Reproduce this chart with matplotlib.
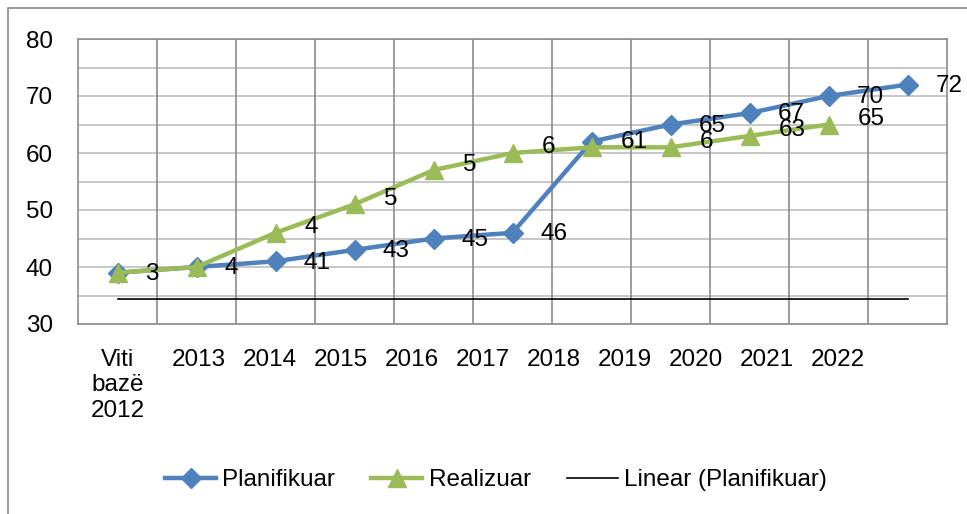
import matplotlib
matplotlib.use("Agg")
import matplotlib.pyplot as plt
import numpy as np
from matplotlib.patches import Rectangle

plt.rcParams['font.family'] = ['Liberation Sans', 'DejaVu Sans']

categories = ["Viti\nbazë\n2012", "2013", "2014", "2015", "2016", "2017",
              "2018", "2019", "2020", "2021", "2022"]
planifikuar = [39, 40, 41, 43, 45, 46, 62, 65, 67, 70, 72]
realizuar = [39, 40, 46, 51, 57, 60, 61, 61, 63, 65]
# data labels as they show up in the original (partly cut off)
plan_labels = ["3", "4", "41", "43", "45", "46", "", "65", "67", "70", "72"]
real_labels = ["", "", "4", "5", "5", "6", "61", "6", "63", "65"]
trend = [34.4, 34.4]

blue = "#4F81BD"
green = "#9BBB59"
fs = 17.5

fig = plt.figure(figsize=(9.67, 5.14), dpi=100)
fig.patches.append(Rectangle((8 / 967, -0.01), 1.0, 1 - 8 / 514 + 0.01,
                             transform=fig.transFigure, fill=False,
                             edgecolor="#8c8c8c", lw=1.2))
ax = fig.add_axes([78 / 967, 1 - 324 / 514, (947 - 78) / 967, (324 - 39) / 514])

x_plan = np.arange(len(planifikuar))
x_real = np.arange(len(realizuar))

ax.plot(x_plan, planifikuar, color=blue, lw=3.2, marker="D", ms=10,
        label="Planifikuar", zorder=3)
ax.plot(x_real, realizuar, color=green, lw=3.2, marker="^", ms=13,
        label="Realizuar", zorder=4)
ax.plot([x_plan[0], x_plan[-1]], trend, color="black", lw=1.2,
        label="Linear (Planifikuar)", zorder=2)

for xi, yi, t in zip(x_plan, planifikuar, plan_labels):
    ax.annotate(t, (xi, yi), xytext=(20, -1), textcoords="offset points",
                ha="left", va="center", fontsize=fs, zorder=5)
for xi, yi, t in zip(x_real, realizuar, real_labels):
    ax.annotate(t, (xi, yi), xytext=(21, 4), textcoords="offset points",
                ha="left", va="center", fontsize=fs, zorder=5)

ax.set_xlim(-0.5, len(categories) - 0.5)
ax.set_ylim(30, 80)
ax.set_yticks(np.arange(30, 81, 10))
ax.set_yticks(np.arange(35, 80, 10), minor=True)
ax.tick_params(axis="y", which="both", length=0, labelsize=fs, pad=18)
ax.grid(axis="y", which="both", color="#bdbdbd", lw=1.2)

# category boundaries as vertical gridlines
for b in np.arange(0.5, len(categories) - 1, 1.0):
    ax.axvline(b, color="#8c8c8c", lw=1.2, zorder=1)

# tick labels sit a bit tighter than the categories in the original
xt = np.concatenate([[0.0], 1.03 + 0.899 * np.arange(len(categories) - 1)])
ax.set_xticks(xt)
ax.set_xticklabels(categories, fontsize=fs, linespacing=1.2)
ax.tick_params(axis="x", length=0, pad=18)
ax.set_axisbelow(True)
for s in ax.spines.values():
    s.set_color("#8c8c8c")
    s.set_linewidth(1.2)

leg = fig.legend(loc="center", bbox_to_anchor=(0.513, 1 - 480 / 514), ncol=3,
                 frameon=False, fontsize=fs, handlelength=2.1,
                 columnspacing=1.5, handletextpad=0.25)

fig.savefig("out.png", dpi=100)
